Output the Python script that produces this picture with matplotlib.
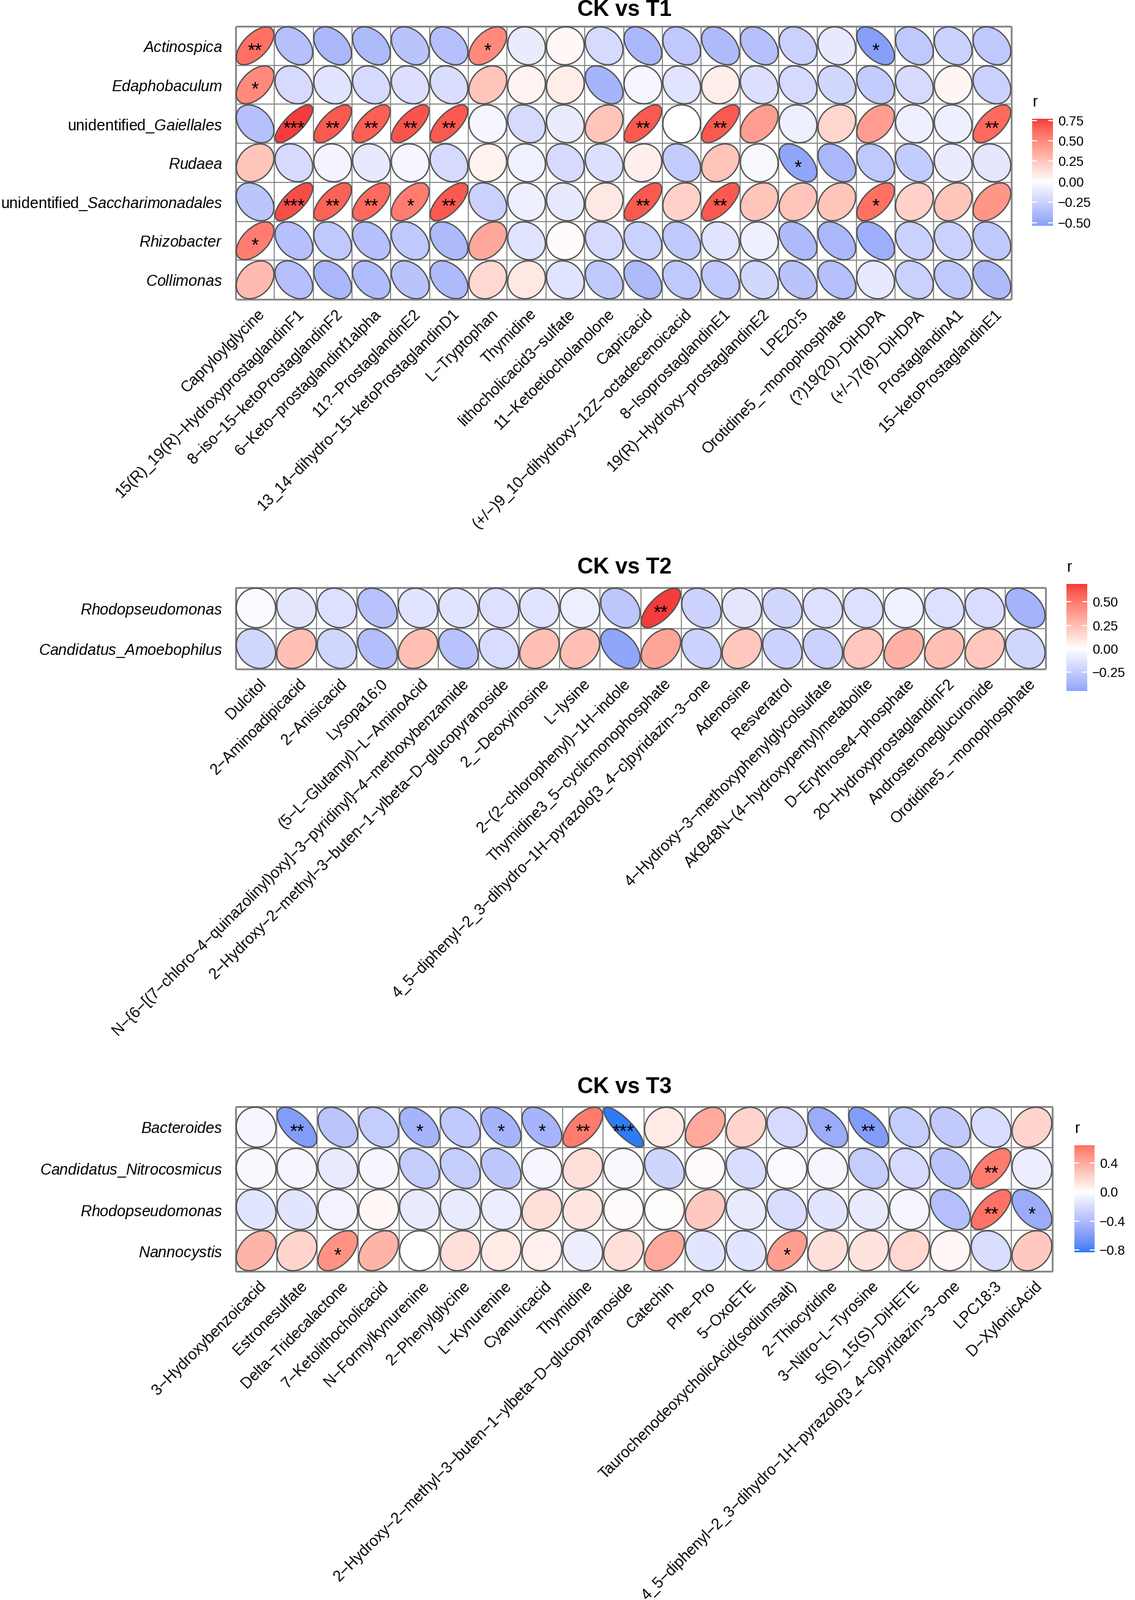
import numpy as np
import matplotlib
matplotlib.use("Agg")
import matplotlib.pyplot as plt
from matplotlib.colors import ListedColormap, Normalize, to_rgb
from matplotlib.patches import Polygon
from matplotlib.transforms import offset_copy

plt.rcParams['font.family'] = ['Liberation Sans', 'DejaVu Sans']
plt.rcParams['mathtext.fontset'] = 'custom'
plt.rcParams['mathtext.rm'] = 'Liberation Sans'
plt.rcParams['mathtext.it'] = 'Liberation Sans:italic'
plt.rcParams['mathtext.bf'] = 'Liberation Sans:bold'

# ---------------- data ----------------
t1_rows = ["Actinospica", "Edaphobaculum", "unidentified_Gaiellales", "Rudaea",
           "unidentified_Saccharimonadales", "Rhizobacter", "Collimonas"]
t1_cols = ["Capryloylglycine", "15(R)_19(R)−HydroxyprostaglandinF1", "8−iso−15−ketoProstaglandinF2",
           "6−Keto−prostaglandinf1alpha", "11?−ProstaglandinE2", "13_14−dihydro−15−ketoProstaglandinD1",
           "L−Tryptophan", "Thymidine", "lithocholicacid3−sulfate", "11−Ketoetiocholanolone", "Capricacid",
           "(+/−)9_10−dihydroxy−12Z−octadecenoicacid", "8−IsoprostaglandinE1",
           "19(R)−Hydroxy−prostaglandinE2", "LPE20:5", "Orotidine5_−monophosphate", "(?)19(20)−DiHDPA",
           "(+/−)7(8)−DiHDPA", "ProstaglandinA1", "15−ketoProstaglandinE1"]
t1_r = [
    [0.60, -0.35, -0.40, -0.38, -0.33, -0.35, 0.50, -0.10, 0.03, -0.20, -0.40, -0.30, -0.38, -0.35, -0.25, -0.12, -0.54, -0.30, -0.25, -0.30],
    [0.50, -0.20, -0.15, -0.20, -0.17, -0.18, 0.25, 0.05, 0.08, -0.42, -0.05, -0.15, 0.08, -0.17, -0.20, -0.22, -0.28, -0.20, 0.04, -0.25],
    [-0.35, 0.77, 0.68, 0.66, 0.70, 0.68, -0.05, -0.20, -0.10, 0.25, 0.68, 0.00, 0.68, 0.42, -0.08, 0.18, 0.42, -0.08, -0.08, 0.62],
    [0.25, -0.20, -0.06, -0.12, -0.05, -0.20, 0.06, -0.07, -0.20, -0.17, 0.07, -0.28, 0.25, -0.03, -0.50, -0.40, -0.30, -0.28, -0.10, -0.13],
    [-0.32, 0.72, 0.65, 0.62, 0.55, 0.68, -0.25, -0.08, -0.12, 0.10, 0.68, 0.20, 0.68, 0.25, 0.25, 0.25, 0.60, 0.20, 0.25, 0.45],
    [0.55, -0.35, -0.30, -0.35, -0.30, -0.38, 0.38, -0.15, 0.02, -0.20, -0.25, -0.30, -0.15, -0.08, -0.38, -0.40, -0.45, -0.25, -0.25, -0.30],
    [0.30, -0.35, -0.40, -0.37, -0.33, -0.38, 0.17, 0.10, -0.15, -0.30, -0.38, -0.30, -0.30, -0.22, -0.33, -0.35, -0.12, -0.25, -0.30, -0.38],
]
t1_sig = [
    ["**", "", "", "", "", "", "*", "", "", "", "", "", "", "", "", "", "*", "", "", ""],
    ["*", "", "", "", "", "", "", "", "", "", "", "", "", "", "", "", "", "", "", ""],
    ["", "***", "**", "**", "**", "**", "", "", "", "", "**", "", "**", "", "", "", "", "", "", "**"],
    ["", "", "", "", "", "", "", "", "", "", "", "", "", "", "*", "", "", "", "", ""],
    ["", "***", "**", "**", "*", "**", "", "", "", "", "**", "", "**", "", "", "", "*", "", "", ""],
    ["*", "", "", "", "", "", "", "", "", "", "", "", "", "", "", "", "", "", "", ""],
    ["", "", "", "", "", "", "", "", "", "", "", "", "", "", "", "", "", "", "", ""],
]
t1_ticks = [0.75, 0.50, 0.25, 0.00, -0.25, -0.50]
t1_ticklabels = ["0.75", "0.50", "0.25", "0.00", "−0.25", "−0.50"]

t2_rows = ["Rhodopseudomonas", "Candidatus_Amoebophilus"]
t2_cols = ["Dulcitol", "2−Aminoadipicacid", "2−Anisicacid", "Lysopa16:0", "(5−L−Glutamyl)−L−AminoAcid",
           "N−{6−[(7−chloro−4−quinazolinyl)oxy]−3−pyridinyl}−4−methoxybenzamide",
           "2−Hydroxy−2−methyl−3−buten−1−ylbeta−D−glucopyranoside", "2_−Deoxyinosine", "L−lysine",
           "2−(2−chlorophenyl)−1H−indole", "Thymidine3_5−cyclicmonophosphate",
           "4_5−diphenyl−2_3−dihydro−1H−pyrazolo[3_4−c]pyridazin−3−one", "Adenosine", "Resveratrol",
           "4−Hydroxy−3−methoxyphenylglycolsulfate", "AKB48N−(4−hydroxypentyl)metabolite",
           "D−Erythrose4−phosphate", "20−HydroxyprostaglandinF2", "Androsteroneglucuronide",
           "Orotidine5_−monophosphate"]
t2_r = [
    [-0.02, -0.12, -0.15, -0.30, -0.13, -0.13, -0.15, -0.13, -0.08, -0.28, 0.69, -0.22, -0.12, -0.20, -0.15, -0.15, -0.07, -0.15, -0.17, -0.38],
    [-0.20, 0.25, -0.20, -0.32, 0.25, -0.30, -0.17, 0.25, 0.25, -0.45, 0.35, -0.22, 0.22, -0.22, -0.22, 0.22, 0.30, 0.25, 0.22, -0.20],
]
t2_sig = [
    ["", "", "", "", "", "", "", "", "", "", "**", "", "", "", "", "", "", "", "", ""],
    ["", "", "", "", "", "", "", "", "", "", "", "", "", "", "", "", "", "", "", ""],
]
t2_ticks = [0.50, 0.25, 0.00, -0.25]
t2_ticklabels = ["0.50", "0.25", "0.00", "−0.25"]

t3_rows = ["Bacteroides", "Candidatus_Nitrocosmicus", "Rhodopseudomonas", "Nannocystis"]
t3_cols = ["3−Hydroxybenzoicacid", "Estronesulfate", "Delta−Tridecalactone", "7−Ketolithocholicacid",
           "N−Formylkynurenine", "2−Phenylglycine", "L−Kynurenine", "Cyanuricacid", "Thymidine",
           "2−Hydroxy−2−methyl−3−buten−1−ylbeta−D−glucopyranoside", "Catechin", "Phe−Pro", "5−OxoETE",
           "TaurochenodeoxycholicAcid(sodiumsalt)", "2−Thiocytidine", "3−Nitro−L−Tyrosine",
           "5(S)_15(S)−DiHETE", "4_5−diphenyl−2_3−dihydro−1H−pyrazolo[3_4−c]pyridazin−3−one",
           "LPC18:3", "D−XylonicAcid"]
t3_r = [
    [-0.05, -0.60, -0.35, -0.30, -0.45, -0.32, -0.45, -0.45, 0.60, -0.83, 0.10, 0.40, 0.20, -0.22, -0.50, -0.60, -0.30, -0.32, -0.20, 0.20],
    [-0.03, -0.05, -0.12, -0.05, -0.30, -0.30, -0.33, -0.05, 0.15, -0.03, -0.25, 0.02, -0.20, -0.02, -0.05, -0.30, -0.22, -0.35, 0.60, -0.10],
    [-0.15, -0.15, -0.07, 0.03, -0.12, -0.12, -0.10, 0.15, 0.12, 0.02, 0.01, 0.25, -0.12, -0.20, -0.15, -0.12, -0.06, -0.38, 0.64, -0.50],
    [0.35, 0.20, 0.50, 0.35, 0.00, 0.15, 0.10, 0.07, -0.10, 0.15, 0.40, -0.15, -0.15, 0.45, 0.15, 0.13, 0.18, 0.04, -0.20, 0.25],
]
t3_sig = [
    ["", "**", "", "", "*", "", "*", "*", "**", "***", "", "", "", "", "*", "**", "", "", "", ""],
    ["", "", "", "", "", "", "", "", "", "", "", "", "", "", "", "", "", "", "**", ""],
    ["", "", "", "", "", "", "", "", "", "", "", "", "", "", "", "", "", "", "**", "*"],
    ["", "", "*", "", "", "", "", "", "", "", "", "", "", "*", "", "", "", "", "", ""],
]
t3_ticks = [0.4, 0.0, -0.4, -0.8]
t3_ticklabels = ["0.4", "0.0", "−0.4", "−0.8"]

# ---------------- colour scale (ggplot gradient2 in Lab) ----------------
LOW, MID, HIGH = "#2F7BF5", "#FFFFFF", "#F43C3C"

_M = np.array([[0.4124564, 0.3575761, 0.1804375],
               [0.2126729, 0.7151522, 0.0721750],
               [0.0193339, 0.1191920, 0.9503041]])
_Minv = np.linalg.inv(_M)
_WP = np.array([0.95047, 1.0, 1.08883])


def _to_lin(c):
    c = np.asarray(c, float)
    return np.where(c <= 0.04045, c / 12.92, ((c + 0.055) / 1.055) ** 2.4)


def _to_srgb(c):
    c = np.clip(c, 0, None)
    return np.where(c <= 0.0031308, 12.92 * c, 1.055 * np.power(c, 1 / 2.4) - 0.055)


def rgb2lab(rgb):
    xyz = _M @ _to_lin(rgb) / _WP
    d = 6 / 29
    f = np.where(xyz > d ** 3, np.cbrt(xyz), xyz / (3 * d * d) + 4 / 29)
    return np.array([116 * f[1] - 16, 500 * (f[0] - f[1]), 200 * (f[1] - f[2])])


def lab2rgb(lab):
    L, a, b = lab
    fy = (L + 16) / 116
    f = np.array([fy + a / 500, fy, fy - b / 200])
    d = 6 / 29
    xyz = np.where(f > d, f ** 3, 3 * d * d * (f - 4 / 29)) * _WP
    return np.clip(_to_srgb(_Minv @ xyz), 0, 1)


_labs = [rgb2lab(to_rgb(c)) for c in (LOW, MID, HIGH)]
_cols = []
for t in np.linspace(0, 1, 512):
    if t <= 0.5:
        s = t / 0.5
        lab = _labs[0] * (1 - s) + _labs[1] * s
    else:
        s = (t - 0.5) / 0.5
        lab = _labs[1] * (1 - s) + _labs[2] * s
    _cols.append(lab2rgb(lab))
cmap = ListedColormap(_cols)

# ---------------- figure ----------------
W, H = 1854, 2614
DPI = 100
fig = plt.figure(figsize=(W / DPI, H / DPI), dpi=DPI)
fig.patch.set_facecolor("white")


def px_axes(l, t, r, b):
    return fig.add_axes([l / W, 1 - b / H, (r - l) / W, (b - t) / H])


def ylab(name):
    if name.startswith("unidentified_"):
        rest = name[len("unidentified_"):]
        return r"$\mathrm{unidentified\_}\mathit{" + rest + "}$"
    return r"$\mathit{" + name.replace("_", r"\_") + "}$"


tt = np.linspace(0, 2 * np.pi, 240)
FS = 18
STAR_FS = 22


def draw_panel(title, rows, cols, R, S, box, cbox, ticks, ticklabels, title_y):
    l, t, r, b = box
    ax = px_axes(l, t, r, b)
    R = np.asarray(R, float)
    nr, nc = R.shape
    ax.set_xlim(0, nc)
    ax.set_ylim(nr, 0)
    M = np.abs(R).max()
    norm = Normalize(-M, M)

    ax.vlines(np.arange(1, nc), 0, nr, color="#8A8A8A", lw=1.3, zorder=1)
    ax.hlines(np.arange(1, nr), 0, nc, color="#8A8A8A", lw=1.3, zorder=1)
    ax.vlines([0, nc], 0, nr, color="#8A8A8A", lw=2.2, zorder=1, clip_on=False)
    ax.hlines([0, nr], 0, nc, color="#8A8A8A", lw=2.2, zorder=1, clip_on=False)

    star_tr = offset_copy(ax.transData, fig=fig, x=0, y=-0.575 * STAR_FS, units="points")
    for i in range(nr):
        for j in range(nc):
            v = R[i, j]
            d = np.arccos(np.clip(v, -1, 1))
            ex = 0.485 * np.cos(tt + d / 2)
            ey = 0.485 * np.cos(tt - d / 2)
            ax.add_patch(Polygon(np.column_stack([j + 0.5 + ex, i + 0.5 - ey]), closed=True,
                                 facecolor=cmap(norm(v)), edgecolor="#505050", lw=1.5, zorder=2))
            if S[i][j]:
                ax.text(j + 0.5, i + 0.5, S[i][j], transform=star_tr, ha="center", va="baseline",
                        fontsize=STAR_FS, color="black", zorder=4)

    for s in ax.spines.values():
        s.set_visible(False)
    ax.set_xticks([])
    ax.set_yticks(np.arange(nr) + 0.5)
    ax.set_yticklabels([ylab(n) for n in rows], fontsize=FS)
    ax.tick_params(axis="y", length=0, pad=15.5)

    xl_tr = offset_copy(ax.get_xaxis_transform(), fig=fig, x=4, y=-12, units="dots")
    for j, name in enumerate(cols):
        ax.text(j + 0.5, 0, name, transform=xl_tr, rotation=45, rotation_mode="anchor",
                ha="right", va="top", fontsize=FS, color="black")

    fig.text(1020 / W, 1 - title_y / H, title, ha="center", va="center", fontsize=26,
             fontweight="bold")

    # colour bar
    cl, ct, cr, cb = cbox
    cax = px_axes(cl, ct, cr, cb)
    vmin, vmax = R.min(), R.max()
    grad = np.linspace(vmin, vmax, 300)[:, None]
    cax.imshow(grad, aspect="auto", extent=[0, 1, vmin, vmax], origin="lower", cmap=cmap,
               norm=norm, interpolation="bilinear")
    cax.set_xlim(0, 1)
    cax.set_ylim(vmin, vmax)
    for tv in ticks:
        cax.plot([0, 0.2], [tv, tv], color="white", lw=1.3)
        cax.plot([0.8, 1], [tv, tv], color="white", lw=1.3)
    for s in cax.spines.values():
        s.set_visible(False)
    cax.set_xticks([])
    cax.yaxis.tick_right()
    cax.set_yticks(ticks)
    cax.set_yticklabels(ticklabels, fontsize=15.5)
    cax.tick_params(axis="y", length=0, pad=6)
    cax.text(0, 1, "r", transform=offset_copy(cax.transAxes, fig=fig, x=0, y=20, units="dots"),
             ha="left", va="baseline", fontsize=FS)


draw_panel("CK vs T1", t1_rows, t1_cols, t1_r, t1_sig, (385, 43, 1652, 489),
           (1686, 194, 1720, 369), t1_ticks, t1_ticklabels, 17)
draw_panel("CK vs T2", t2_rows, t2_cols, t2_r, t2_sig, (385, 960, 1708, 1093),
           (1742, 954, 1776, 1129), t2_ticks, t2_ticklabels, 927)
draw_panel("CK vs T3", t3_rows, t3_cols, t3_r, t3_sig, (385, 1808, 1719, 2077),
           (1755, 1871, 1788, 2046), t3_ticks, t3_ticklabels, 1776)

fig.savefig("out.png", dpi=DPI, facecolor="white")
